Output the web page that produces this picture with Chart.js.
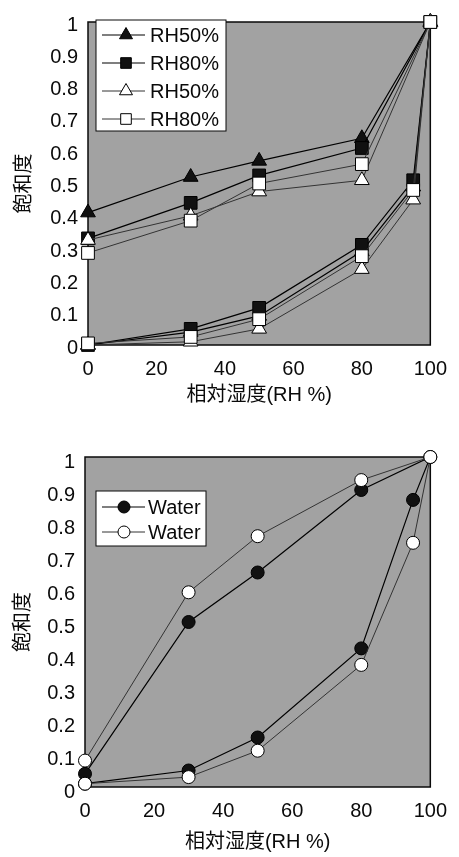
<!DOCTYPE html>
<html>
<head>
<meta charset="utf-8">
<script src="https://cdn.jsdelivr.net/npm/chart.js@4/dist/chart.umd.min.js"></script>
<style>
  body { margin: 0; background: #fff; }
  canvas { position: absolute; left: 0; }
  #topChart { top: 0; }
  #bottomChart { top: 430px; }
</style>
</head>
<body>
<canvas id="topChart" width="459" height="430"></canvas>
<canvas id="bottomChart" width="459" height="427"></canvas>
<script>
// 相対湿度の経路: 吸着 0→100, 脱着 100→0
const rhPath = [0, 30, 50, 80, 95, 100, 80, 50, 30, 0];
const xTicks = [0, 20, 40, 60, 80, 100];
const yTicks = [0, 0.1, 0.2, 0.3, 0.4, 0.5, 0.6, 0.7, 0.8, 0.9, 1];

// 上のグラフ
const rh50Solid = [0, 0.04, 0.09, 0.29, 0.49, 1, 0.64, 0.57, 0.52, 0.41];
const rh80Solid = [0, 0.05, 0.115, 0.31, 0.51, 1, 0.61, 0.525, 0.44, 0.33];
const rh50Open  = [0, 0.01, 0.05, 0.235, 0.45, 1, 0.51, 0.475, 0.40, 0.325];
const rh80Open  = [0.005, 0.025, 0.08, 0.275, 0.48, 1, 0.56, 0.50, 0.385, 0.285];

// 下のグラフ
const waterSolid = [0.01, 0.05, 0.15, 0.42, 0.87, 1, 0.90, 0.65, 0.50, 0.04];
const waterOpen  = [0.01, 0.03, 0.11, 0.37, 0.74, 1, 0.93, 0.76, 0.59, 0.08];

const FONT = "'Liberation Sans', 'Noto Sans CJK JP', sans-serif";
const INK = '#0a0a0a';
const PLOT_BG = '#a2a2a2';

const toPoints = ys => ys.map((y, i) => ({ x: rhPath[i], y }));

function series(label, ys, style, filled, radius, order) {
  return {
    label,
    data: toPoints(ys),
    borderColor: filled ? '#000' : '#333',
    borderWidth: filled ? 1.2 : 1,
    pointStyle: style,
    pointRadius: radius,
    pointBackgroundColor: filled ? '#111' : '#fff',
    pointBorderColor: '#000',
    pointBorderWidth: 1,
    tension: 0,
    clip: false,
    order
  };
}

// 灰色の背景・枠・凡例
const plotFrame = {
  id: 'plotFrame',
  beforeDatasetsDraw(chart) {
    const { ctx, chartArea: a } = chart;
    ctx.save();
    ctx.fillStyle = PLOT_BG;
    ctx.fillRect(a.left, a.top, a.width, a.height);
    ctx.strokeStyle = INK;
    ctx.lineWidth = 1.5;
    ctx.strokeRect(a.left, a.top, a.width, a.height);
    ctx.restore();
  },
  afterDatasetsDraw(chart, args, opts) {
    const { ctx } = chart;
    const lg = opts.box;
    ctx.save();
    ctx.fillStyle = '#fff';
    ctx.fillRect(lg.x, lg.y, lg.w, lg.h);
    ctx.strokeStyle = INK;
    ctx.lineWidth = 1;
    ctx.strokeRect(lg.x, lg.y, lg.w, lg.h);
    chart.data.datasets.forEach((ds, i) => {
      const cy = lg.y + lg.first + i * lg.step;
      ctx.strokeStyle = ds.borderColor;
      ctx.lineWidth = ds.borderWidth;
      ctx.beginPath();
      ctx.moveTo(lg.x + 6, cy);
      ctx.lineTo(lg.x + 49, cy);
      ctx.stroke();
      ctx.fillStyle = ds.pointBackgroundColor;
      ctx.strokeStyle = ds.pointBorderColor;
      ctx.lineWidth = 1;
      Chart.helpers.drawPoint(ctx, { pointStyle: ds.pointStyle, radius: lg.r, rotation: 0, borderWidth: 1 }, lg.x + lg.mx, cy);
      ctx.fillStyle = INK;
      ctx.font = '20px ' + FONT;
      ctx.textBaseline = 'middle';
      ctx.textAlign = 'left';
      ctx.fillText(ds.label, lg.x + lg.tx, cy + 1);
    });
    ctx.restore();
  }
};

function scales(c) {
  return {
    x: {
      type: 'linear', min: 0, max: 100,
      afterBuildTicks: s => { s.ticks = xTicks.map(v => ({ value: v })); },
      grid: { display: false, drawTicks: false },
      border: { display: false },
      ticks: { font: { family: FONT, size: 20 }, color: INK, padding: c.xPad, maxRotation: 0 },
      title: { display: true, text: '相対湿度(RH %)', color: INK,
               font: { family: FONT, size: 20 }, padding: { top: 0, bottom: c.xTitlePad } },
      afterFit: s => { s.height = c.xH; }
    },
    y: {
      type: 'linear', min: 0, max: 1,
      afterBuildTicks: s => { s.ticks = yTicks.map(v => ({ value: v })); },
      grid: { display: false, drawTicks: false },
      border: { display: false },
      ticks: { font: { family: FONT, size: 20 }, color: INK, padding: 10,
               labelOffset: c.yOff, callback: v => String(v) },
      title: { display: true, text: '飽和度', color: INK,
               font: { family: FONT, size: 20 }, padding: { top: c.yTitlePad, bottom: 0 } },
      afterFit: s => { s.width = c.yW; }
    }
  };
}

new Chart(document.getElementById('topChart'), {
  type: 'line',
  data: {
    datasets: [
      series('RH50%', rh50Solid, 'triangle', true, 8.5, 4),
      series('RH80%', rh80Solid, 'rect', true, 9, 3),
      series('RH50%', rh50Open, 'triangle', false, 8.5, 2),
      series('RH80%', rh80Open, 'rect', false, 9, 1)
    ]
  },
  options: {
    responsive: false,
    animation: false,
    layout: { padding: { left: 0, top: 14, right: 23, bottom: 0 } },
    scales: scales({ xPad: 12, xTitlePad: 23, xH: 85, yOff: 3, yTitlePad: 12, yW: 88 }),
    plugins: {
      legend: { display: false },
      tooltip: { enabled: false },
      plotFrame: { box: { x: 96, y: 20, w: 130, h: 111, first: 15, step: 28, r: 7.5, mx: 30, tx: 54 } }
    }
  },
  plugins: [plotFrame]
});

new Chart(document.getElementById('bottomChart'), {
  type: 'line',
  data: {
    datasets: [
      series('Water', waterSolid, 'circle', true, 6.5, 2),
      series('Water', waterOpen, 'circle', false, 6.5, 1)
    ]
  },
  options: {
    responsive: false,
    animation: false,
    layout: { padding: { left: 0, top: 27, right: 25, bottom: 0 } },
    scales: scales({ xPad: 12, xTitlePad: 3, xH: 70, yOff: 5, yTitlePad: 11, yW: 85 }),
    plugins: {
      legend: { display: false },
      tooltip: { enabled: false },
      plotFrame: { box: { x: 96, y: 61, w: 110, h: 55, first: 16, step: 25, r: 6, mx: 28, tx: 52 } }
    }
  },
  plugins: [plotFrame]
});
</script>
</body>
</html>
